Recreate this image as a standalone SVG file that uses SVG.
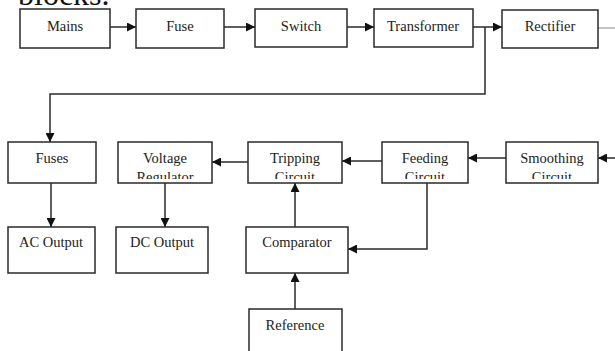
<svg xmlns="http://www.w3.org/2000/svg" width="615" height="351" viewBox="0 0 615 351">
<style>
.box{fill:#fff;stroke:#2a2a2a;stroke-width:1.5}
.t{font-family:"Liberation Serif","Times New Roman",serif;font-size:14.5px;fill:#222;text-anchor:middle}
.c{fill:none;stroke:#2a2a2a;stroke-width:1.5}
.thin{fill:none;stroke:#888;stroke-width:1}
</style>
<defs>
<marker id="ah" viewBox="0 0 10 10" refX="10" refY="5" markerWidth="9" markerHeight="9" markerUnits="userSpaceOnUse" orient="auto">
<path d="M0,0 L10,5 L0,10 z" fill="#111"/>
</marker>
<clipPath id="cVR"><rect x="118" y="142" width="94" height="37"/></clipPath>
<clipPath id="cTC"><rect x="248" y="142" width="94" height="37"/></clipPath>
<clipPath id="cFC"><rect x="382" y="142" width="86" height="37"/></clipPath>
<clipPath id="cSC"><rect x="506" y="142" width="92" height="37"/></clipPath>
</defs>
<rect width="615" height="351" fill="#fff"/>
<text x="18" y="5" font-family="Liberation Serif,serif" font-size="32" fill="#111">blocks.</text>

<g id="connectors">
<path class="c" d="M110,27 H136" marker-end="url(#ah)"/>
<path class="c" d="M224,27 H255" marker-end="url(#ah)"/>
<path class="c" d="M347,27 H374" marker-end="url(#ah)"/>
<path class="c" d="M473,27 H502" marker-end="url(#ah)"/>
<path class="c" d="M485,27 V94 H50 V142" marker-end="url(#ah)"/>
<path class="thin" d="M598,28 H615"/>
<path class="c" d="M615,158 H598" marker-end="url(#ah)"/>
<path class="c" d="M506,158 H468" marker-end="url(#ah)"/>
<path class="c" d="M382,161 H342" marker-end="url(#ah)"/>
<path class="c" d="M248,162 H212" marker-end="url(#ah)"/>
<path class="c" d="M51,183 V227" marker-end="url(#ah)"/>
<path class="c" d="M165,183 V227" marker-end="url(#ah)"/>
<path class="c" d="M295,227 V183" marker-end="url(#ah)"/>
<path class="c" d="M427,183 V249 H348" marker-end="url(#ah)"/>
<path class="c" d="M295,309 V273" marker-end="url(#ah)"/>
</g>

<g id="mains"><rect class="box" x="20" y="9" width="90" height="39"/><text class="t" x="65" y="31">Mains</text></g>
<g id="fuse"><rect class="box" x="136" y="9" width="88" height="39"/><text class="t" x="180" y="31">Fuse</text></g>
<g id="switch"><rect class="box" x="255" y="9" width="92" height="38"/><text class="t" x="301" y="31">Switch</text></g>
<g id="transformer"><rect class="box" x="374" y="9" width="99" height="38"/><text class="t" x="423" y="31">Transformer</text></g>
<g id="rectifier"><rect class="box" x="502" y="10" width="96" height="38"/><text class="t" x="550" y="31">Rectifier</text></g>

<g id="fuses"><rect class="box" x="8" y="142" width="88" height="41"/><text class="t" x="52" y="163">Fuses</text></g>
<g id="voltage-regulator"><rect class="box" x="118" y="142" width="94" height="41"/><text class="t" x="165" y="163">Voltage</text><text class="t" x="165" y="182" clip-path="url(#cVR)">Regulator</text></g>
<g id="tripping-circuit"><rect class="box" x="248" y="142" width="94" height="41"/><text class="t" x="295" y="163">Tripping</text><text class="t" x="295" y="182" clip-path="url(#cTC)">Circuit</text></g>
<g id="feeding-circuit"><rect class="box" x="382" y="142" width="86" height="41"/><text class="t" x="425" y="163">Feeding</text><text class="t" x="425" y="182" clip-path="url(#cFC)">Circuit</text></g>
<g id="smoothing-circuit"><rect class="box" x="506" y="142" width="92" height="41"/><text class="t" x="552" y="163">Smoothing</text><text class="t" x="552" y="182" clip-path="url(#cSC)">Circuit</text></g>

<g id="ac-output"><rect class="box" x="8" y="227" width="87" height="46"/><text class="t" x="51" y="247">AC Output</text></g>
<g id="dc-output"><rect class="box" x="116" y="227" width="92" height="46"/><text class="t" x="162" y="247">DC Output</text></g>
<g id="comparator"><rect class="box" x="246" y="227" width="102" height="46"/><text class="t" x="297" y="247">Comparator</text></g>
<g id="reference"><rect class="box" x="249" y="309" width="93" height="50"/><text class="t" x="295" y="330">Reference</text></g>
</svg>
